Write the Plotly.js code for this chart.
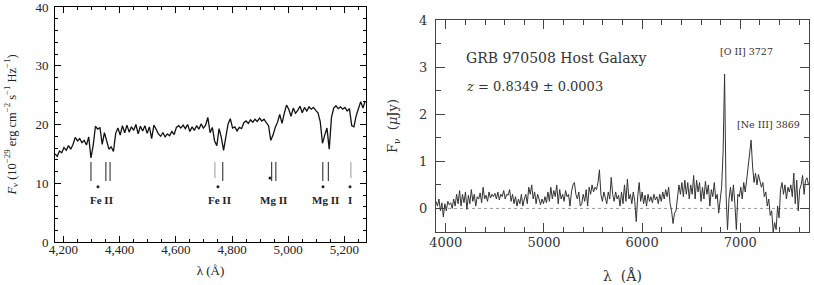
<!DOCTYPE html>
<html><head><meta charset="utf-8">
<script src="https://cdn.plot.ly/plotly-3.0.1.min.js"></script>
<style>html,body{margin:0;padding:0;background:#fff}#chart{width:814px;height:285px}</style>
</head><body><div id="chart"></div>
<script>
// ---- Left panel: absorption spectrum (Fnu, 1e-29 erg cm^-2 s^-1 Hz^-1) ----
const leftLambda = [4170,4178,4186,4194,4202,4210,4218,4226,4234,4242,4250,4258,4266,4274,4282,4290,4298,4306,4314,4322,4330,4338,4346,4354,4362,4370,4378,4386,4394,4402,4410,4418,4426,4434,4442,4450,4458,4466,4474,4482,4490,4498,4506,4514,4522,4530,4538,4546,4554,4562,4570,4578,4586,4594,4602,4610,4618,4626,4634,4642,4650,4658,4666,4674,4682,4690,4698,4706,4714,4722,4730,4738,4746,4754,4762,4770,4778,4786,4794,4802,4810,4818,4826,4834,4842,4850,4858,4866,4874,4882,4890,4898,4906,4914,4922,4930,4938,4946,4954,4962,4970,4978,4986,4994,5002,5010,5018,5026,5034,5042,5050,5058,5066,5074,5082,5090,5098,5106,5114,5122,5130,5138,5146,5154,5162,5170,5178,5186,5194,5202,5210,5218,5226,5234,5242,5250,5258,5266,5274];
const leftFlux = [15.0,14.6,15.5,15.2,16.1,15.6,16.4,15.8,16.6,17.8,17.2,17.6,16.9,17.3,16.5,17.9,14.3,16.5,19.7,19.2,19.5,16.6,18.6,17.0,15.8,16.2,15.4,18.5,19.4,18.2,19.8,18.6,19.9,18.7,19.6,19.0,20.0,18.4,19.7,18.9,19.8,18.5,19.6,17.6,19.9,19.2,18.4,18.0,18.6,17.9,18.4,18.1,18.8,18.3,19.5,19.8,19.4,19.9,19.3,20.0,18.8,19.6,19.0,19.8,19.2,20.1,19.4,19.9,21.2,18.6,19.5,17.2,16.4,19.3,17.8,15.6,17.6,20.1,21.0,19.4,19.6,18.9,19.5,19.3,20.3,20.6,20.2,20.8,20.4,20.9,20.5,21.1,20.6,20.9,20.3,19.8,17.3,18.2,19.5,20.4,21.7,20.2,21.9,23.3,22.6,21.4,22.8,21.9,22.4,23.1,22.0,22.9,22.3,23.0,22.6,22.9,22.4,22.0,20.5,16.8,18.2,19.4,15.8,21.2,22.8,23.2,22.7,23.0,22.6,22.9,22.3,22.7,19.8,19.6,21.5,22.9,23.9,22.8,24.0];

// absorption-line identification marks
const lineMarksDark = [4298,4351,4366,4767,4941,4956,5123,5143];
const lineMarksLight = [4739,5223];
const lineDots = [4323,4750,5124,5220];
const lineDotsHigh = [4935];
const lineLabelText = ['Fe II','Fe II','Mg II','Mg II','I'];
const lineLabelPos = [4334,4757,4949,5131,5220];

// ---- Right panel: GRB 970508 host galaxy emission spectrum (Fnu, microJy) ----
const rightLambda = [];
const rightStart = 3900, rightStep = 15;
const rightFlux = [0.15,0.05,0.2,-0.05,0.12,-0.18,0.1,-0.05,0.15,0.08,0.12,0.0,0.2,0.05,0.3,0.1,0.38,0.05,0.3,0.12,0.35,-0.02,0.28,0.1,0.4,0.15,0.3,0.05,0.25,0.2,0.33,0.12,0.45,0.2,0.28,0.15,0.35,0.22,0.3,0.25,0.32,0.2,0.35,0.18,0.3,0.25,0.38,0.2,0.3,0.28,0.4,0.15,0.3,0.1,0.25,0.05,0.2,0.1,0.3,0.05,0.2,0.3,0.1,0.45,0.3,0.5,0.2,0.35,0.1,0.3,0.2,0.08,0.2,0.1,0.25,0.12,0.35,0.15,0.45,0.2,0.38,0.25,0.5,0.1,0.4,0.2,0.3,0.15,0.38,0.25,0.3,0.05,0.35,0.5,0.55,0.3,0.2,0.35,0.05,0.1,0.3,0.15,0.4,0.05,0.45,0.3,0.5,0.35,0.45,0.4,0.55,0.82,0.3,0.15,0.35,0.2,0.1,0.35,0.2,0.66,0.3,0.15,0.35,0.2,0.28,0.05,0.35,0.1,0.5,0.15,0.62,0.2,0.3,0.1,0.35,0.15,-0.28,0.25,0.55,0.15,0.35,0.1,0.28,0.05,0.3,0.15,0.25,0.12,0.3,0.18,0.25,0.1,0.3,0.15,0.35,0.2,0.4,0.25,0.45,0.1,-0.05,-0.32,-0.1,-0.05,0.25,0.5,0.3,0.55,0.25,0.6,0.3,0.55,0.2,0.5,0.3,0.7,0.2,0.6,0.35,0.55,0.15,0.45,0.2,0.58,0.3,0.5,0.05,0.4,0.25,0.55,0.2,0.3,-0.1,0.2,0.45,1.2,2.85,0.3,-0.45,0.2,0.45,0.15,0.5,0.1,-0.45,0.3,0.25,0.45,0.2,0.55,0.35,0.6,0.9,1.2,1.45,0.9,0.55,0.75,0.5,0.72,0.6,0.45,0.55,0.25,0.35,0.05,0.2,-0.15,-0.05,-0.5,-0.3,-0.45,0.05,-0.2,0.4,0.55,0.3,0.5,0.2,0.45,0.35,0.5,0.25,0.75,0.1,0.6,-0.05,0.4,0.5,0.7,0.3,0.6,0.65,0.5];
for (let i = 0; i < rightFlux.length; i++) rightLambda.push(rightStart + i * rightStep);

const serif = 'Liberation Serif, Times New Roman, serif';
const serif2 = 'DejaVu Serif, serif';

function segs(xs, y0, y1) {
  const X = [], Y = [];
  xs.forEach(x => { X.push(x, x, null); Y.push(y0, y1, null); });
  return {X, Y};
}
const dk = segs(lineMarksDark, 10.4, 13.6);
const lt = segs(lineMarksLight, 10.9, 13.6);

const traces = [
  {x: leftLambda, y: leftFlux, xaxis: 'x', yaxis: 'y', mode: 'lines', line: {color: '#111', width: 1.3}, hoverinfo: 'skip'},
  {x: dk.X, y: dk.Y, xaxis: 'x', yaxis: 'y', mode: 'lines', line: {color: '#444', width: 1.2}, connectgaps: false},
  {x: lt.X, y: lt.Y, xaxis: 'x', yaxis: 'y', mode: 'lines', line: {color: '#aaa', width: 1.2}, connectgaps: false},
  {x: lineDots, y: lineDots.map(() => 9.4), xaxis: 'x', yaxis: 'y', mode: 'markers', marker: {color: '#222', size: 3}},
  {x: lineDotsHigh, y: lineDotsHigh.map(() => 10.9), xaxis: 'x', yaxis: 'y', mode: 'markers', marker: {color: '#222', size: 3}},
  {x: rightLambda, y: rightFlux, xaxis: 'x2', yaxis: 'y2', mode: 'lines', line: {color: '#333', width: 1}}
];

const annotations = lineLabelText.map((t, i) => ({
  x: lineLabelPos[i], y: 7.1, xref: 'x', yref: 'y', text: '<b>' + t + '</b>', showarrow: false,
  font: {family: serif, size: 11, color: '#222'}
}));
annotations.push(
  {x: 4190, y: 3.2, xref: 'x2', yref: 'y2', xanchor: 'left', text: 'GRB 970508 Host Galaxy', showarrow: false, font: {family: serif2, size: 14, color: '#333'}},
  {x: 4190, y: 2.58, xref: 'x2', yref: 'y2', xanchor: 'left', text: '<i>z</i> = 0.8349 ± 0.0003', showarrow: false, font: {family: serif2, size: 13, color: '#333'}},
  {x: 6775, y: 3.33, xref: 'x2', yref: 'y2', xanchor: 'left', text: '[O II] 3727', showarrow: false, font: {family: serif2, size: 9.5, color: '#333'}},
  {x: 6945, y: 1.78, xref: 'x2', yref: 'y2', xanchor: 'left', text: '[Ne III] 3869', showarrow: false, font: {family: serif2, size: 9.5, color: '#333'}}
);

const axL = {showline: true, linecolor: '#000', linewidth: 1, mirror: 'ticks', ticks: 'inside', ticklen: 6, tickcolor: '#000', showgrid: false, zeroline: false, ticklabeloverflow: 'allow'};
const axR = {showline: true, linecolor: '#444', linewidth: 1, mirror: 'ticks', ticks: 'inside', ticklen: 9, tickcolor: '#444', showgrid: false, zeroline: false, ticklabeloverflow: 'allow'};

const layout = {
  width: 814, height: 285, margin: {l: 55, r: 5, t: 7, b: 43},
  paper_bgcolor: '#fff', plot_bgcolor: '#fff', showlegend: false,
  xaxis: Object.assign({}, axL, {domain: [0, 0.4125], range: [4170, 5277], tickmode: 'array', tickvals: [4200,4400,4600,4800,5000,5200], ticktext: ['4,200','4,400','4,600','4,800','5,000','5,200'],
    minor: {dtick: 50, tick0: 4200, ticklen: 3, ticks: 'inside', tickcolor: '#000'}, ticklabelstandoff: -5,
    tickfont: {family: serif, size: 13, color: '#222'}, title: {text: 'λ (Å)', font: {family: serif, size: 13, color: '#222'}, standoff: 10}}),
  yaxis: Object.assign({}, axL, {domain: [0, 1], range: [0, 40], tickmode: 'array', tickvals: [0,10,20,30,40], ticklabelstandoff: 3,
    minor: {dtick: 2, ticklen: 3, ticks: 'inside', tickcolor: '#000'},
    tickfont: {family: serif, size: 13, color: '#222'},
    title: {text: '<i>F</i><sub>ν</sub> (10<sup>−29</sup> erg cm<sup>−2</sup> s<sup>−1</sup> Hz<sup>−1</sup>)', font: {family: serif, size: 12.5, color: '#222'}, standoff: 16}}),
  xaxis2: Object.assign({}, axR, {anchor: 'y2', domain: [0.5053, 1], range: [3900, 7700], dtick: 1000, tick0: 4000, ticklabelstandoff: -2,
    minor: {dtick: 200, ticklen: 5, ticks: 'inside', tickcolor: '#444'},
    tickfont: {family: serif2, size: 13, color: '#333'}, title: {text: 'λ  (Å)', font: {family: serif2, size: 14, color: '#333'}, standoff: 22}}),
  yaxis2: Object.assign({}, axR, {anchor: 'x2', domain: [0.0426, 0.9447], range: [-0.5, 4], dtick: 1, tick0: 0, ticklabelstandoff: 5,
    minor: {dtick: 0.5, ticklen: 5, ticks: 'inside', tickcolor: '#444'},
    tickfont: {family: serif2, size: 13, color: '#333'}, title: {text: 'F<sub>ν</sub>  (<i>μ</i>Jy)', font: {family: serif2, size: 13, color: '#333'}, standoff: 18}}),
  shapes: [{type: 'line', xref: 'x2 domain', yref: 'y2', x0: 0, x1: 1, y0: 0, y1: 0, line: {color: '#999', width: 1, dash: 'dot'}, layer: 'below'}],
  annotations: annotations
};

Plotly.newPlot('chart', traces, layout, {displayModeBar: false, staticPlot: true});
</script></body></html>
